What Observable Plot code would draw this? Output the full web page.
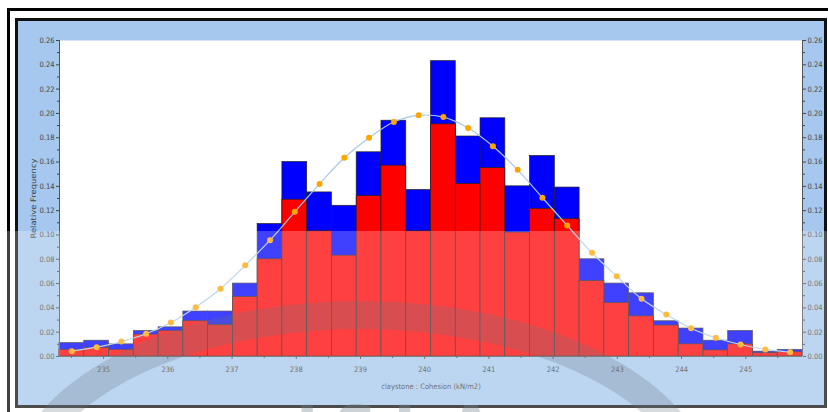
<!DOCTYPE html>
<html><head><meta charset="utf-8">
<script src="https://cdn.jsdelivr.net/npm/d3@7"></script>
<script src="https://cdn.jsdelivr.net/npm/@observablehq/plot@0.6"></script>
<style>
body{margin:0;background:#fff;}
#wrap{position:relative;width:828px;height:412px;overflow:hidden;background:#fff;}
#outer{position:absolute;left:7px;top:8px;width:840px;height:420px;border:3px solid #000;box-sizing:border-box;}
#inner{position:absolute;left:15px;top:18px;width:812px;height:390px;border:3px solid #111;box-sizing:border-box;background:#a6c8ee;}
#chart{position:absolute;left:0;top:0;}
#wm{position:absolute;left:0;top:0;pointer-events:none;}
</style></head><body>
<div id="wrap"><div id="outer"></div><div id="inner"></div><div id="chart"></div>
<svg id="wm" width="828" height="412">
  <ellipse cx="361" cy="500" rx="342" ry="185" fill="none" stroke="#334455" stroke-width="28" opacity="0.26"></ellipse>
  <text x="296" y="449" font-family="DejaVu Sans, sans-serif" font-weight="bold" font-size="60" letter-spacing="16" fill="#445566" opacity="0.35">ISLA</text>
  <rect x="0" y="231" width="828" height="181" fill="#fff" opacity="0.25"></rect>
</svg></div>
<script>
// bins
const binStart = 234.313;
const binWidth = 0.38567;
const binCount = 30;
// blue: total relative frequency; red: sub-part relative frequency
const totalFreq = [0.011,0.013,0.010,0.021,0.024,0.037,0.037,0.060,0.109,0.160,0.135,0.124,0.168,0.194,0.137,0.243,0.181,0.196,0.140,0.165,0.139,0.080,0.060,0.052,0.029,0.023,0.013,0.021,0.004,0.0055];
const partFreq = [0.0055,0.007,0.0055,0.018,0.021,0.029,0.026,0.049,0.080,0.129,0.103,0.083,0.132,0.157,0.103,0.191,0.142,0.155,0.102,0.1215,0.113,0.062,0.044,0.033,0.0255,0.010,0.005,0.010,0.0027,0.0035];
// fitted normal curve values at bin centres
const normalFit = [0.0044,0.0077,0.0123,0.0187,0.028,0.0406,0.0557,0.075,0.0957,0.119,0.142,0.1635,0.180,0.193,0.1984,0.197,0.188,0.173,0.1536,0.1306,0.1078,0.0853,0.066,0.0475,0.0346,0.0233,0.0154,0.0099,0.0058,0.0035];
// axis ticks
const xTicks = [235,236,237,238,239,240,241,242,243,244,245];
const xMinorTicks = [234.5,235.5,236.5,237.5,238.5,239.5,240.5,241.5,242.5,243.5,244.5,245.5];
const yTicks = [0,0.02,0.04,0.06,0.08,0.10,0.12,0.14,0.16,0.18,0.20,0.22,0.24,0.26];
const yMinorTicks = [0.01,0.03,0.05,0.07,0.09,0.11,0.13,0.15,0.17,0.19,0.21,0.23,0.25];
const xLabel = "claystone : Cohesion (kN/m2)";
const yLabel = "Relative Frequency";

const bins = totalFreq.map((t, i) => ({
  x1: binStart + i * binWidth,
  x2: binStart + (i + 1) * binWidth,
  xc: binStart + (i + 0.5) * binWidth,
  total: t, part: partFreq[i], fit: normalFit[i]
}));
const xMin = binStart, xMax = binStart + binCount * binWidth;
const fmt = d3.format(".2f");

const chart = Plot.plot({
  width: 828, height: 412,
  marginLeft: 59, marginRight: 26, marginTop: 40, marginBottom: 56,
  x: {domain: [xMin, xMax]},
  y: {domain: [0, 0.26]},
  style: {fontFamily: "'Liberation Sans Narrow','DejaVu Sans Condensed',sans-serif", fontSize: "7.5px", color: "#444", background: "transparent", overflow: "visible"},
  marks: [
    Plot.frame({fill: "white", stroke: null}),
    Plot.rectY(bins, {x1: "x1", x2: "x2", y: "total", fill: "#0000ff", stroke: "#222", strokeWidth: 0.7}),
    Plot.rectY(bins, {x1: "x1", x2: "x2", y: "part", fill: "#ff0000", stroke: "#222", strokeWidth: 0.7}),
    Plot.line(bins, {x: "xc", y: "fit", stroke: "#a9c8e4", strokeWidth: 1.2, curve: "catmull-rom"}),
    Plot.dot(bins, {x: "xc", y: "fit", fill: "#ffa500", r: 3, stroke: null}),
    Plot.ruleX([xMin, xMax], {stroke: "#555", strokeWidth: 1}),
    Plot.ruleY([0], {stroke: "#555", strokeWidth: 1}),
    Plot.axisY(yTicks, {anchor: "left", tickSize: 3, tickPadding: 2, tickFormat: fmt, label: yLabel, labelAnchor: "center", labelArrow: "none", labelOffset: 29}),
    Plot.axisY(yMinorTicks, {anchor: "left", tickSize: 2, tickFormat: () => "", label: null}),
    Plot.axisY(yTicks, {anchor: "right", tickSize: 3, tickPadding: 2, tickFormat: fmt, label: null}),
    Plot.axisY(yMinorTicks, {anchor: "right", tickSize: 2, tickFormat: () => "", label: null}),
    Plot.axisX(xTicks, {anchor: "bottom", tickSize: 3, tickPadding: 7, tickFormat: d => String(d), label: xLabel, labelAnchor: "center", labelArrow: "none", labelOffset: 32}),
    Plot.axisX(xMinorTicks, {anchor: "bottom", tickSize: 2, tickFormat: () => "", label: null})
  ]
});
document.getElementById("chart").appendChild(chart);
const yl = chart.querySelector('g[aria-label="y-axis label"] text');
if (yl) { yl.setAttribute("textLength", "80"); yl.setAttribute("lengthAdjust", "spacingAndGlyphs"); }
</script>
</body></html>
